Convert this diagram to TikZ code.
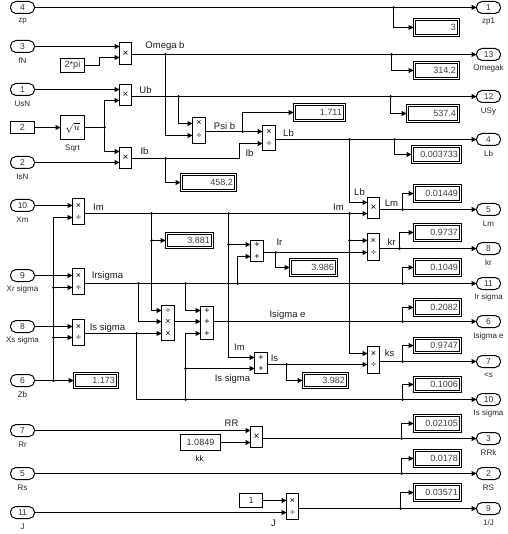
\documentclass[tikz,border=0pt]{standalone}
\usepackage{fontspec}
\setmainfont{Liberation Sans}
\usetikzlibrary{arrows.meta}
\tikzset{
  sl wire/.style={line width=1pt},
  sl arrow/.style={sl wire,-{Triangle[length=5pt,width=5pt]}},
  sl block/.style={
    rectangle,draw,line width=1pt,fill=white,inner sep=0pt,outer sep=0pt,
    font=\fontsize{10}{10}\selectfont
  },
  sl const/.style={sl block,font=\fontsize{9}{10}\selectfont,text=black!80},
  sl sign/.style={inner sep=0pt,font=\fontsize{9}{9}\selectfont},
  sl port/.style={
    sl block,rounded corners=5.5pt,minimum width=24pt,minimum height=12pt,
    font=\fontsize{8.5}{9}\selectfont,text=black!80
  },
  sl value/.style={inner sep=0pt,anchor=east,font=\fontsize{9}{10}\selectfont,text=black!75},
  sl name/.style={inner sep=0pt,font=\fontsize{8}{9}\selectfont,text=black!85},
  sl tag/.style={inner sep=0pt,font=\fontsize{9.5}{10}\selectfont,text=black!90},
  sl dot/.style={circle,fill=black,inner sep=0pt,minimum size=3pt}
}
\newcommand{\blockat}[8][]{%
  \node[sl block,minimum width={(#5-#3)*1pt},minimum height={(#6-#4)*1pt}]
    (#2) at ({(#3+#5)/2},{(#4+#6)/2}) {#1};
  \coordinate (#2-o) at (#5,#7);
  \foreach \p/\s [count=\i] in {#8} {
    \coordinate (#2-\i) at (#3,\p);
    \node[sl sign] (#2-s\i) at ({(#3+#5)/2},\p) {\s};
  }%
}

\begin{document}
\begin{tikzpicture}[x=1pt,y=-1pt]
  \useasboundingbox (-0.5,-0.5) rectangle (506.5,533.5);
  % input ports
  \foreach \n/\t/\y/\l in {zp/4/7/zp,fN/3/46/fN,UsN/1/89/UsN,IsN/2/162/IsN,Xm/10/205/Xm,
      Xr/9/275/Xr sigma,Xs/8/326/Xs sigma,Zb/6/380/Zb,Rr/7/430/Rr,Rs/5/473/Rs,J/11/512/J} {
    \node[sl port] (in\n) at (22,\y) {\t};
    \node[sl name] (in\n l) at (22,\y+14) {\l};
  }
  % output ports
  \foreach \n/\t/\y in {zp/1/7,Om/13/54,Us/12/96,Lb/4/139,Lm/5/209,kr/8/248,Ir/11/283,
      Ise/6/321,ks/7/361,Is/10/399,RR/3/438,RS/2/473,J/9/508} {
    \node[sl port] (out\n) at (488,\y) {\t};
  }
  \foreach \n/\y/\l in {zp/21/zp1,Om/68/Omegak,Us/111/USy,Lb/153/Lb,Lm/223/Lm,kr/262/kr,
      Ir/297/Ir sigma,Ise/336/Isigma e,ks/375/<s,Is/413/Is sigma,RR/452/RRk,RS/487/RS,J/522/{1/J}} {
    \node[sl name] (out\n l) at (488,\y) {\l};
  }
  % constants
  \node[sl const,minimum width=24pt,minimum height=12pt] (cTwo) at (22,127) {2};
  \node[sl const,minimum width=24pt,minimum height=14pt] (cPi) at (72,65) {2*pi};
  \node[sl const,minimum width=40pt,minimum height=16pt] (cKk) at (200,442) {1.0849};
  \node[sl const,minimum width=23pt,minimum height=14pt] (cOne) at (250.5,500) {1};
  \node[sl name,text=black] (cKkl) at (199,458) {kk};
  \node[sl block,minimum width=24pt,minimum height=24pt,font=\normalsize] (sqrtu) at (72,127) {$\sqrt{u}$};
  \node[sl name] (sqrtl) at (72,148) {Sqrt};
  % product and sum blocks
  \blockat[×]{mOm}{119}{42}{131}{64}{54}{46/,57/}
  \blockat[×]{mUb}{119}{84}{131}{105}{96}{89/,100/}
  \blockat[×]{mIb}{119}{147}{131}{168}{158}{151/,162/}
  \blockat{mPsi}{192}{117}{205}{143}{131}{123/×,135/÷}
  \blockat{mLb}{262}{125}{275}{150}{139}{131/×,143/÷}
  \blockat{mXm}{72}{198}{84}{224}{213}{205/×,217/÷}
  \blockat{mXr}{72}{268}{84}{294}{283}{275/×,287/÷}
  \blockat{mXs}{72}{319}{84}{345}{333}{326/×,337/÷}
  \blockat{mSe}{161}{305}{174}{340}{321}{310/÷,321/×,333/×}
  \blockat{sSe}{200}{306}{213}{339}{321}{310/+,321/+,333/+}
  \blockat{sIr}{250}{240}{263}{261}{252}{244/+,256/+}
  \blockat{sIs}{254}{352}{267}{373}{364}{357/+,368/+}
  \blockat[×]{mLm}{367}{197}{379}{218}{209}{202/,213/}
  \blockat{mKr}{367}{233}{379}{260}{248}{240/×,252/÷}
  \blockat{mKs}{367}{346}{379}{373}{361}{353/×,364/÷}
  \blockat[×]{mRR}{250}{426}{262}{447}{438}{430/,442/}
  \blockat{mJ}{286}{493}{298}{519}{508}{500/×,512/÷}
  % displays
  \foreach \n/\xa/\ya/\xb/\yb/\v in {zp/413/18/459/36/3,Om/413/61/459/79/314.2,Us/406/104/459/122/537.4,
      Lb/411/145/461/163/0.003733,Psi/293/103/345/121/1.711,Ib/180/173/236/191/458.2,
      Lm/413/184/461/202/0.01449,Kr/413/223/461/241/0.9737,Ir/413/258/461/276/0.1049,
      Se/413/298/461/316/0.2082,Ks/413/337/461/353/0.9747,Is/413/376/461/392/0.1006,
      RR/413/414/461/432/0.02105,RS/413/449/461/467/0.0178,J/413/483/461/501/0.03571,
      Im/165/232/213/248/3.881,Irr/289/258/337/276/3.986,Iss/302/372/348/388/3.982,
      Zb/73/372/118/388/1.173} {
    \node[sl block,minimum width={(\xb-\xa)*1pt},minimum height={(\yb-\ya)*1pt}]
      (d\n) at ({(\xa+\xb)/2},{(\ya+\yb)/2}) {};
    \node[sl block,minimum width={(\xb-\xa-4)*1pt},minimum height={(\yb-\ya-4)*1pt}]
      (d\n i) at (d\n) {};
    \node[sl value] (d\n v) at (\xb-3.5,{(\ya+\yb)/2}) {\v};
  }
  % branch points
  \foreach \n/\x/\y in {jzp/393/7,jOm/391/54,jUs/390/96,jLb/394/139,jLm/402/209,jKr/399/248,
      jIr/402/283,jSe/402/321,jKs/402/361,jIs/402/399,jRR/401/438,jRS/401/473,jJ/400/508,
      jOmg/165/54,jUb/178/96,jSq/104/127,jIb/165/158,jPsi/242/131,jLbb/349/139,
      jImA/151/213,jImB/151/240,jImC/228/213,jImD/228/244,jImE/349/213,jImF/349/240,
      jZb/53/380,jZbA/53/287,jZbB/53/337,jIrA/138/283,jIrB/185/283,jIrC/237/283,
      jIsA/136/333,jIsB/185/399,jIsC/185/368,jIrr/275/252,jIss/286/364} {
    \node[sl dot] (\n) at (\x,\y) {};
  }
  % top part
  \draw[sl arrow] (inzp) -- (outzp);
  \draw[sl arrow] (jzp) |- (dzp);
  \draw[sl arrow] (infN) -- (mOm-1);
  \draw[sl arrow] (cPi) -- (99,65) |- (mOm-2);
  \draw[sl arrow] (mOm-o) -- (outOm);
  \draw[sl arrow] (jOm) |- (dOm);
  \draw[sl arrow] (inUsN) -- (mUb-1);
  \draw[sl arrow] (cTwo) -- (sqrtu);
  \draw[sl wire] (sqrtu) -- (jSq);
  \draw[sl arrow] (jSq) |- (mUb-2);
  \draw[sl arrow] (jSq) |- (mIb-1);
  \draw[sl arrow] (inIsN) -- (mIb-2);
  \draw[sl arrow] (mUb-o) -- (outUs);
  \draw[sl arrow] (jUs) |- (dUs);
  \draw[sl arrow] (jUb) |- (mPsi-1);
  \draw[sl arrow] (jOmg) |- (mPsi-2);
  \draw[sl arrow] (mPsi-o) -- (mLb-1);
  \draw[sl arrow] (jPsi) |- (dPsi);
  \draw[sl arrow] (mIb-o) -| (239,143) -- (mLb-2);
  \draw[sl arrow] (jIb) |- (dIb);
  \draw[sl arrow] (mLb-o) -- (outLb);
  \draw[sl arrow] (jLb) |- (dLb);
  \draw[sl arrow] (jLbb) |- (mLm-1);
  % Im and the column on the right
  \draw[sl arrow] (inXm) -- (mXm-1);
  \draw[sl arrow] (mXm-o) -- (mLm-2);
  \draw[sl arrow] (jImB) -- (dIm);
  \draw[sl arrow] (jImA) |- (mSe-1);
  \draw[sl arrow] (jImD) -- (sIr-1);
  \draw[sl arrow] (jImC) |- (sIs-1);
  \draw[sl arrow] (jImE) |- (mKs-1);
  \draw[sl arrow] (jImF) -- (mKr-1);
  \draw[sl arrow] (mLm-o) -- (outLm);
  \draw[sl arrow] (jLm) |- (dLm);
  \draw[sl arrow] (sIr-o) -- (mKr-2);
  \draw[sl arrow] (jIrr) |- (dIrr);
  \draw[sl arrow] (mKr-o) -- (outkr);
  \draw[sl arrow] (jKr) |- (dKr);
  % Irsigma and Is sigma
  \draw[sl arrow] (inXr) -- (mXr-1);
  \draw[sl arrow] (mXr-o) -- (outIr);
  \draw[sl arrow] (jIr) |- (dIr);
  \draw[sl arrow] (jIrA) |- (mSe-2);
  \draw[sl arrow] (jIrB) |- (sSe-1);
  \draw[sl arrow] (jIrC) |- (sIr-2);
  \draw[sl arrow] (inXs) -- (mXs-1);
  \draw[sl arrow] (mXs-o) -- (mSe-3);
  \draw[sl arrow] (jIsA) |- (outIs);
  \draw[sl arrow] (jIsB) |- (sSe-3);
  \draw[sl arrow] (jIsC) -- (sIs-2);
  \draw[sl arrow] (jIs) |- (dIs);
  \draw[sl arrow] (mSe-o) -- (sSe-2);
  \draw[sl arrow] (sSe-o) -- (outIse);
  \draw[sl arrow] (jSe) |- (dSe);
  \draw[sl arrow] (sIs-o) -- (mKs-2);
  \draw[sl arrow] (jIss) |- (dIss);
  \draw[sl arrow] (mKs-o) -- (outks);
  \draw[sl arrow] (jKs) |- (dKs);
  % Zb
  \draw[sl arrow] (inZb) -- (dZb);
  \draw[sl arrow] (jZb) |- (mXm-2);
  \draw[sl arrow] (jZbA) -- (mXr-2);
  \draw[sl arrow] (jZbB) -- (mXs-2);
  % bottom part
  \draw[sl arrow] (inRr) -- (mRR-1);
  \draw[sl arrow] (cKk) -- (mRR-2);
  \draw[sl arrow] (mRR-o) -- (outRR);
  \draw[sl arrow] (jRR) |- (dRR);
  \draw[sl arrow] (inRs) -- (outRS);
  \draw[sl arrow] (jRS) |- (dRS);
  \draw[sl arrow] (cOne) -- (mJ-1);
  \draw[sl arrow] (inJ) -- (mJ-2);
  \draw[sl arrow] (mJ-o) -- (outJ);
  \draw[sl arrow] (jJ) |- (dJ);
  % signal names
  \foreach \n/\x/\y/\t in {tOm/164.5/46/Omega b,tUb/145/90/Ub,tIb/144/151/Ib,tPsi/224/126/Psi b,
      tIbb/249/153/Ib,tLb/288/132.5/Lb,tLbb/359/192/Lb,tIm/98/207/Im,tImm/338/207/Im,tLm/391/203/Lm,
      tKr/391/242/kr,tIr/279/242/Ir,tIrs/107/276/Irsigma,tIss/107/328/Is sigma,tSe/287/315/Isigma e,
      tIml/239/347/Im,tIsl/232/379/Is sigma,tIs/274/358/Is,tKs/389/353/ks,tRR/231/423/RR,tJ/273/523/J} {
    \node[sl tag] (\n) at (\x,\y) {\t};
  }
\end{tikzpicture}
\end{document}
